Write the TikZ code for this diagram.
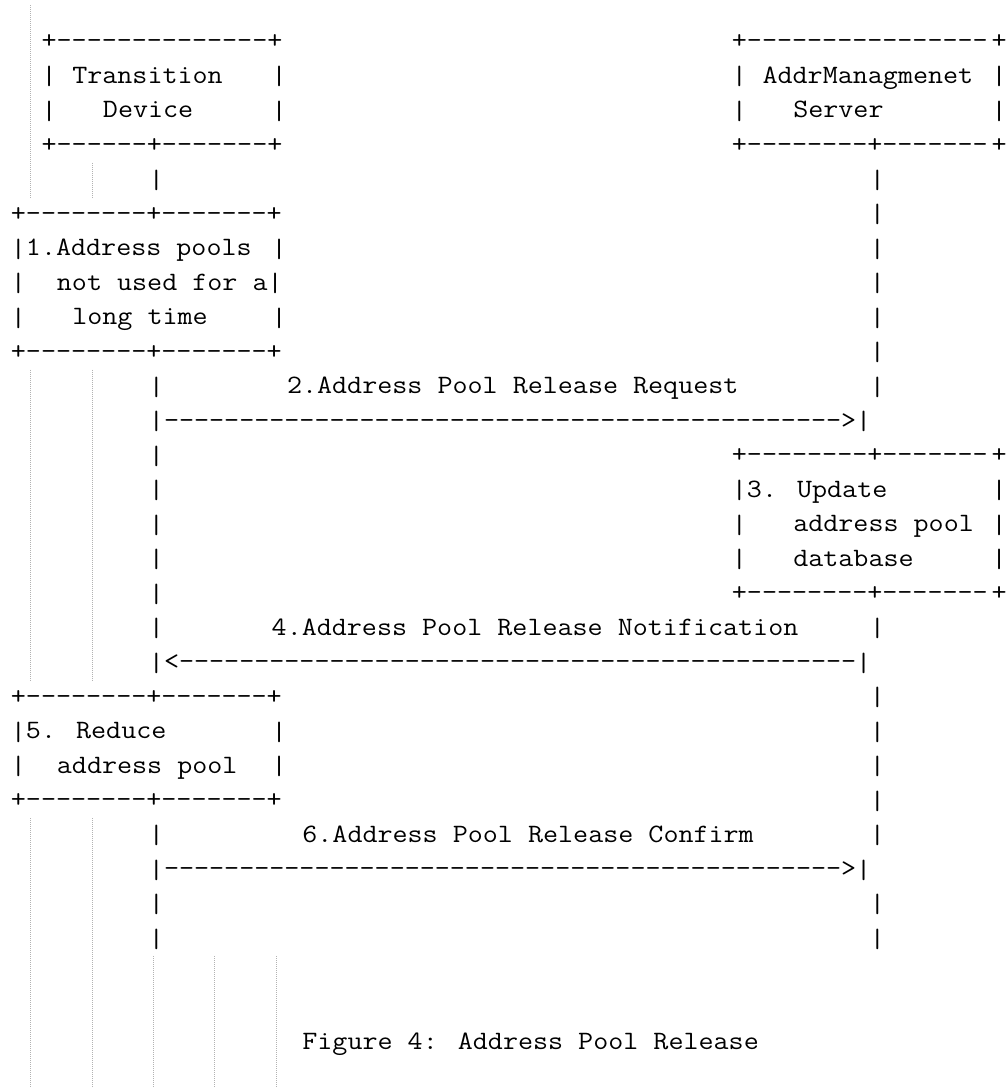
\documentclass[tikz,border=0pt]{standalone}
\usepackage{fontspec}
\usepackage{graphicx}
\tikzset{
  txt/.style={anchor=base west, inner sep=0pt, outer sep=0pt,
    font=\ttfamily\fontsize{26.5}{30}\selectfont, text=black},
  edge char/.style={txt, anchor=base},
  guide/.style={draw=black!30, line width=1pt, dash pattern=on 1pt off 1pt}
}
\newcommand\sx{1.1026}
\newcommand\dten{----------}
\newcommand\B{\raisebox{-1.6pt}{|}}
\newcommand\T[4]{\node[txt] (#1) at (#2,#3) {\scalebox{\sx}[1]{#4}};}
% a character in the last, half-cut column: zero-width box centred in its cell
\newcommand\Z[3]{\node[edge char] (#1) at (64.42,#2) {\makebox[0pt]{\scalebox{\sx}[1]{#3}}};}
\begin{document}
\begin{tikzpicture}[x=1pt,y=-1pt]
\fill[white] (0,0) rectangle (1005,1087);
\useasboundingbox (0,0) rectangle (1005,1087);
% indentation guides
\draw[guide] (30.5,5) -- (30.5,197.25);
\draw[guide] (92,162.75) -- (92,197.25);
\draw[guide] (30.5,369.75) -- (30.5,680.25);
\draw[guide] (92,369.75) -- (92,680.25);
\draw[guide] (30.5,818.25) -- (30.5,1087);
\draw[guide] (92,818.25) -- (92,1087);
\draw[guide] (153,956.25) -- (153,1087);
\draw[guide] (214.5,956.25) -- (214.5,1087);
\draw[guide] (276,956.25) -- (276,1087);
\begin{scope}[shift={(10.93,48.5)},x=15.34pt,y=-34.5pt]
% rows 0-3: participants
\T{tdTop}{2}{0}{+--------------+}
\T{asTop}{47}{0}{+----------------}\Z{asTopR}{0}{+}
\T{tdL1}{2}{1}{\B}\T{tdName}{4}{1}{Transition}\T{tdR1}{17}{1}{\B}
\T{asL1}{47}{1}{\B}\T{asName}{49}{1}{AddrManagmenet}\Z{asR1}{1}{\B}
\T{tdL2}{2}{2}{\B}\T{tdName2}{6}{2}{Device}\T{tdR2}{17}{2}{\B}
\T{asL2}{47}{2}{\B}\T{asName2}{51}{2}{Server}\Z{asR2}{2}{\B}
\T{tdBot}{2}{3}{+------+-------+}
\T{asBot}{47}{3}{+--------+-------}\Z{asBotR}{3}{+}
\T{l4}{9}{4}{\B}\T{r4}{56}{4}{\B}
% step 1
\T{sATop}{0}{5}{+--------+-------+}\T{r5}{56}{5}{\B}
\T{sAa}{0}{6}{\B1.Address pools}\T{sAaR}{17}{6}{\B}\T{r6}{56}{6}{\B}
\T{sAbL}{0}{7}{\B}\T{sAb}{3}{7}{not used for a\B}\T{r7}{56}{7}{\B}
\T{sAcL}{0}{8}{\B}\T{sAc}{4}{8}{long time}\T{sAcR}{17}{8}{\B}\T{r8}{56}{8}{\B}
\T{sABot}{0}{9}{+--------+-------+}\T{r9}{56}{9}{\B}
% message 2
\T{l10}{9}{10}{\B}\T{mB}{18}{10}{2.Address Pool Release Request}\T{r10}{56}{10}{\B}
\T{aB}{9}{11}{\B\dten\dten\dten\dten----->\B}
% step 3
\T{l12}{9}{12}{\B}\T{sCTop}{47}{12}{+--------+-------}\Z{sCTopR}{12}{+}
\T{l13}{9}{13}{\B}\T{sCa}{47}{13}{\B3. Update}\Z{sCaR}{13}{\B}
\T{l14}{9}{14}{\B}\T{sCbL}{47}{14}{\B}\T{sCb}{51}{14}{address pool}\Z{sCbR}{14}{\B}
\T{l15}{9}{15}{\B}\T{sCcL}{47}{15}{\B}\T{sCc}{51}{15}{database}\Z{sCcR}{15}{\B}
\T{l16}{9}{16}{\B}\T{sCBot}{47}{16}{+--------+-------}\Z{sCBotR}{16}{+}
% message 4
\T{l17}{9}{17}{\B}\T{mD}{17}{17}{4.Address Pool Release Notification}\T{r17}{56}{17}{\B}
\T{aD}{9}{18}{\B<\dten\dten\dten\dten-----\B}
% step 5
\T{sETop}{0}{19}{+--------+-------+}\T{r19}{56}{19}{\B}
\T{sEa}{0}{20}{\B5. Reduce}\T{sEaR}{17}{20}{\B}\T{r20}{56}{20}{\B}
\T{sEbL}{0}{21}{\B}\T{sEb}{3}{21}{address pool}\T{sEbR}{17}{21}{\B}\T{r21}{56}{21}{\B}
\T{sEBot}{0}{22}{+--------+-------+}\T{r22}{56}{22}{\B}
% message 6
\T{l23}{9}{23}{\B}\T{mF}{19}{23}{6.Address Pool Release Confirm}\T{r23}{56}{23}{\B}
\T{aF}{9}{24}{\B\dten\dten\dten\dten----->\B}
\T{l25}{9}{25}{\B}\T{r25}{56}{25}{\B}
\T{l26}{9}{26}{\B}\T{r26}{56}{26}{\B}
% caption
\T{cap}{19}{29}{Figure 4: Address Pool Release}
\end{scope}
\end{tikzpicture}
\end{document}
